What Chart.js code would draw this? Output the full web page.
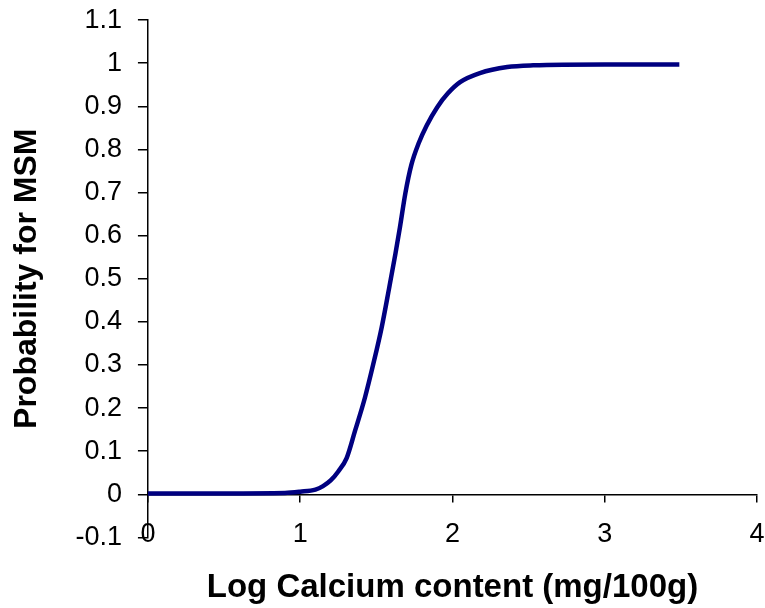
<!DOCTYPE html>
<html>
<head>
<meta charset="utf-8">
<script src="https://cdn.jsdelivr.net/npm/chart.js@4"></script>
<style>
  body { margin: 0; background: #fff; }
</style>
</head>
<body>
<canvas id="chart" width="765" height="608"></canvas>
<script>
// Curve: log calcium content vs probability
const logCalcium = [0, 0.5, 0.9, 1.0, 1.1, 1.15, 1.2, 1.25, 1.305, 1.36, 1.425, 1.48, 1.535, 1.585, 1.625, 1.655, 1.69, 1.73, 1.78, 1.83, 1.9, 1.97, 2.05, 2.18, 2.36, 2.53, 3.0, 3.49];
const probability = [0.002, 0.002, 0.003, 0.006, 0.011, 0.019, 0.032, 0.053, 0.084, 0.147, 0.224, 0.302, 0.387, 0.48, 0.557, 0.619, 0.697, 0.764, 0.816, 0.855, 0.898, 0.93, 0.956, 0.977, 0.991, 0.995, 0.997, 0.997];

const points = logCalcium.map((x, i) => ({ x: x, y: probability[i] }));
const FONT = 'Liberation Sans, Arial, sans-serif';

const ctx = document.getElementById('chart').getContext('2d');
new Chart(ctx, {
  type: 'line',
  data: {
    datasets: [{
      data: points,
      borderColor: '#000080',
      borderWidth: 4.5,
      pointRadius: 0,
      cubicInterpolationMode: 'monotone',
      fill: false
    }]
  },
  options: {
    responsive: false,
    animation: false,
    layout: { padding: { top: 20, right: 8, left: 0, bottom: 0 } },
    plugins: {
      legend: { display: false },
      tooltip: { enabled: false },
      title: {
        display: true,
        position: 'bottom',
        fullSize: false,
        text: 'Log Calcium content (mg/100g)',
        color: '#000',
        font: { family: FONT, size: 33, weight: 'bold' },
        padding: { top: 31, bottom: 0 }
      }
    },
    scales: {
      x: {
        type: 'linear',
        min: 0,
        max: 4,
        position: { y: 0 },   // axis line crosses at y = 0
        ticks: {
          stepSize: 1,
          color: '#000',
          padding: 0,
          // tall line box pushes the labels down to the -0.1 level
          font: { family: FONT, size: 27, lineHeight: 2.5 }
        },
        grid: { drawOnChartArea: false, tickLength: 7, color: '#000', lineWidth: 1.5 },
        border: { color: '#000', width: 1.5 }
      },
      y: {
        min: -0.1,
        max: 1.1,
        ticks: {
          stepSize: 0.1,
          color: '#000',
          padding: 16,
          font: { family: FONT, size: 27, lineHeight: 0.3 },
          callback: (v) => String(parseFloat(v.toFixed(1)))
        },
        grid: { drawOnChartArea: false, tickLength: 10, color: '#000', lineWidth: 1.5 },
        border: { color: '#000', width: 1.5 },
        title: {
          display: true,
          text: 'Probability for MSM',
          color: '#000',
          font: { family: FONT, size: 32, weight: 'bold' },
          padding: { top: 8, bottom: 13 }
        }
      }
    }
  }
});
</script>
</body>
</html>
